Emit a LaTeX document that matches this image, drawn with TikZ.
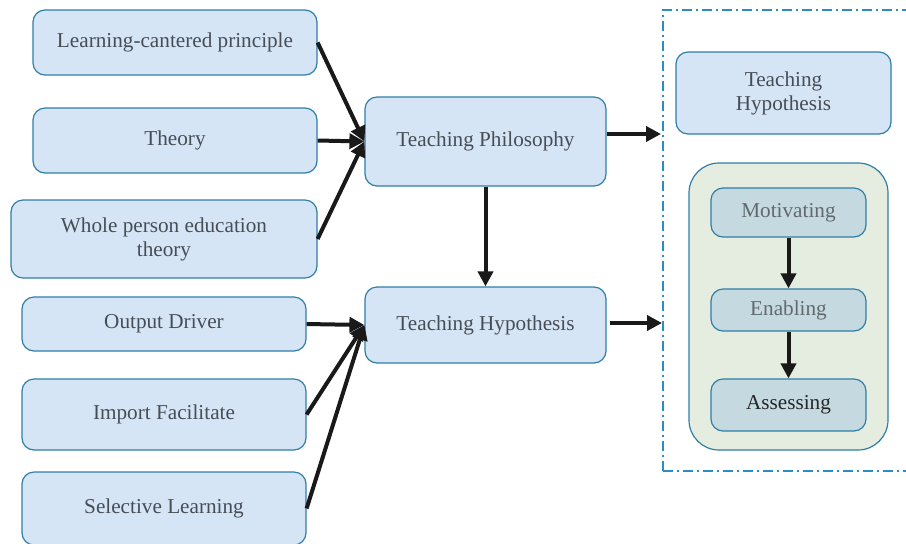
\documentclass[tikz,border=0pt]{standalone}
\usepackage{fontspec}
\setmainfont{Liberation Serif}
\usetikzlibrary{arrows.meta}
\definecolor{boxfill}{HTML}{D5E5F5}
\definecolor{boxline}{HTML}{2F7EA6}
\definecolor{txt}{HTML}{474D55}
\definecolor{greenfill}{HTML}{E5EDE0}
\definecolor{innerfill}{HTML}{C5D9E0}
\definecolor{framecol}{HTML}{2A8CC8}
\begin{document}
\begin{tikzpicture}[x=0.5pt,y=-0.5pt,
  box/.style={draw=boxline, line width=0.6pt, fill=boxfill, rounded corners=6pt, text=txt, align=center, inner sep=0pt, font=\fontsize{10.6}{12}\selectfont},
  inbox/.style={box, fill=innerfill},
  arr/.style={line width=2pt, draw=black!90, -{Triangle[length=7.5pt,width=7.5pt]}},
]
\useasboundingbox (0,0) rectangle (906,543);
% frame
\draw[framecol, line width=0.7pt, dash pattern=on 5pt off 2pt on 1pt off 2pt] (663,471) -- (663,10) -- (915,10);
\draw[framecol, line width=0.7pt, dash pattern=on 5pt off 2pt on 1pt off 2pt] (663,471) -- (915,471);
% left nodes
\node[box, minimum width=142pt, minimum height=32.5pt] (lcp) at (175,42.5) {Learning-cantered principle};
\node[box, minimum width=142pt, minimum height=32.5pt] (theory) at (175,140.5) {Theory};
\node[box, minimum width=153pt, minimum height=39pt] (whole) at (164,239) {Whole person education\\theory};
\node[box, minimum width=142pt, minimum height=27pt] (out) at (164,324) {Output Driver};
\node[box, minimum width=142pt, minimum height=35.5pt] (imp) at (164,414.5) {Import Facilitate};
\node[box, minimum width=142pt, minimum height=36.5pt] (sel) at (164,508.5) {Selective Learning};
% middle
\node[box, minimum width=120.5pt, minimum height=44.5pt] (tp) at (485.5,141.5) {Teaching Philosophy};
\node[box, minimum width=120.5pt, minimum height=38pt] (th) at (485.5,325) {Teaching Hypothesis};
% right
\node[box, minimum width=107.5pt, minimum height=41pt] (th2) at (783.5,93) {Teaching\\Hypothesis};
\node[draw=boxline, line width=0.6pt, fill=greenfill, rounded corners=15pt, minimum width=99.5pt, minimum height=143.5pt, inner sep=0pt] (grp) at (788.5,306.5) {};
\node[inbox, minimum width=77.5pt, minimum height=24.5pt, text=txt!85] (mot) at (788.5,212.5) {Motivating};
\node[inbox, minimum width=77.5pt, minimum height=21pt, text=txt!85] (ena) at (788.5,310) {Enabling};
\node[inbox, minimum width=77.5pt, minimum height=26pt, text=black!85] (ass) at (788.5,405) {Assessing};
% coordinates
\coordinate (f1) at (661,134);
\coordinate (f2) at (662,323);
\coordinate (th1) at (610,323);
% arrows
\draw[arr] (lcp.east) -- (tp.west);
\draw[arr] (theory.east) -- (tp.west);
\draw[arr] (whole.east) -- (tp.west);
\draw[arr] (out.east) -- (th.west);
\draw[arr] (imp.east) -- (th.west);
\draw[arr] (sel.east) -- (th.west);
\draw[arr] (tp.south) -- (th.north);
\draw[arr] (tp.east |- f1) -- (f1);
\draw[arr] (th1) -- (f2);
\draw[arr] (mot.south) -- (ena.north);
\draw[arr] (ena.south) -- (ass.north);
\end{tikzpicture}
\end{document}
